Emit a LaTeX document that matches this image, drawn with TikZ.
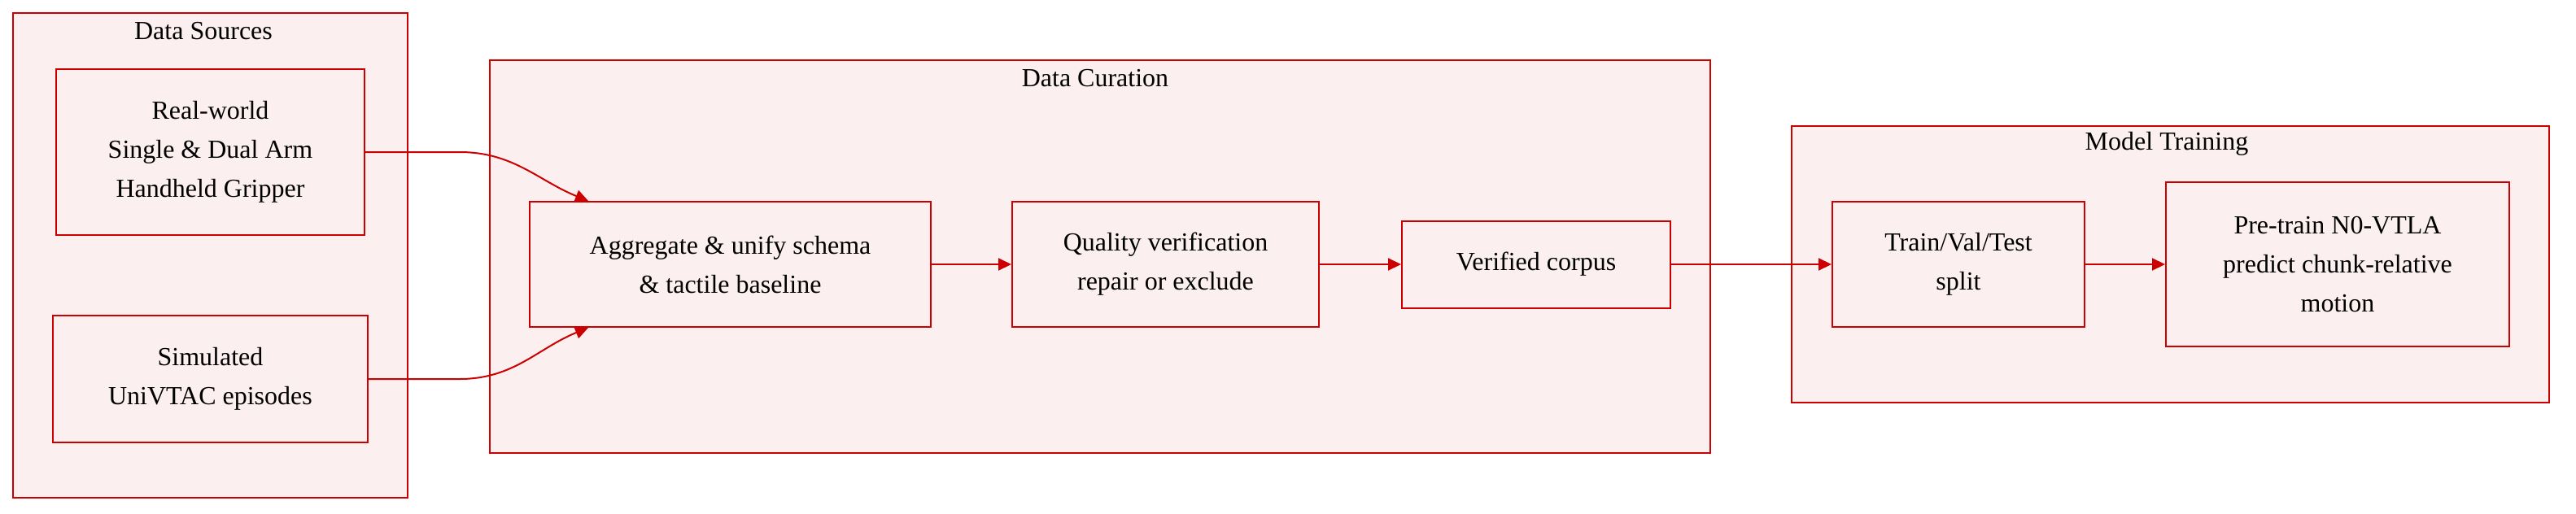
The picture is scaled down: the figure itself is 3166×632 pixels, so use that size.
\documentclass[tikz,border=0pt]{standalone}
\usepackage{fontspec}
\setmainfont{Liberation Serif}
\usetikzlibrary{arrows.meta, positioning}
\definecolor{curred}{RGB}{204,0,0}
\definecolor{curfill}{RGB}{252,239,239}

\begin{document}
\begin{tikzpicture}[
            x=0.5pt, y=-0.5pt,
            group/.style={draw=curred, fill=curfill, line width=1pt, inner sep=0pt},
            box/.style={draw=curred, fill=curfill, line width=1pt, align=center, inner sep=0pt, font=\fontsize{16pt}{24pt}\selectfont},
            title/.style={font=\fontsize{16pt}{24pt}\selectfont, inner sep=0pt},
            flow/.style={curred, line width=1pt, -{Triangle[length=8pt, width=7.5pt]}}
        ]
            \useasboundingbox (0,0) rectangle (3166,632);

            % Clusters
            \node[group, minimum width=242.5pt, minimum height=298pt] (sources) at (258.5,314) {};
            \node[group, minimum width=750pt, minimum height=241.5pt] (curation) at (1352,315.5) {};
            \node[group, minimum width=465.5pt, minimum height=170pt] (training) at (2667.5,325) {};
            \node[title] (sourcestitle) at (250,38) {Data Sources};
            \node[title] (curationtitle) at (1346,96) {Data Curation};
            \node[title] (trainingtitle) at (2663,177) {Model Training};

            % Steps
            \node[box, minimum width=189.5pt, minimum height=102pt] (real) at (258.5,187) {Real-world\\Single \& Dual Arm\\Handheld Gripper};
            \node[box, minimum width=193.5pt, minimum height=78pt] (sim) at (258.5,466) {Simulated\\UniVTAC episodes};
            \node[box, minimum width=246.5pt, minimum height=77pt] (aggregate) at (897.5,325) {Aggregate \& unify schema\\\& tactile baseline};
            \node[box, minimum width=188.5pt, minimum height=77pt] (quality) at (1432.5,325) {Quality verification\\repair or exclude};
            \node[box, minimum width=165pt, minimum height=53.5pt] (verified) at (1888,325) {Verified corpus};
            \node[box, minimum width=155pt, minimum height=77pt] (split) at (2407,325) {Train/Val/Test\\split};
            \node[box, minimum width=211pt, minimum height=101pt] (pretrain) at (2873,325) {Pre-train N0-VTLA\\predict chunk-relative\\motion};

            % Connections
            \draw[flow] (real.east) -- ++(58pt,0) to[out=0, in=158] ([xshift=36.5pt]aggregate.north west);
            \draw[flow] (sim.east) -- ++(56pt,0) to[out=0, in=202] ([xshift=36.5pt]aggregate.south west);
            \draw[flow] (aggregate) -- (quality);
            \draw[flow] (quality) -- (verified);
            \draw[flow] (verified) -- (split);
            \draw[flow] (split) -- (pretrain);
        \end{tikzpicture}
\end{document}
